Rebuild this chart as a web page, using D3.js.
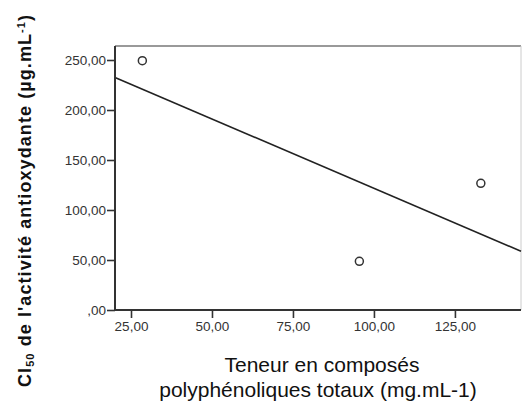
<!DOCTYPE html>
<html>
<head>
<meta charset="utf-8">
<script src="https://cdn.jsdelivr.net/npm/d3@7"></script>
<style>
	body { margin: 0; background: #fff; }
	svg { display: block; font-family: Arial, "Liberation Sans", sans-serif; }
</style>
</head>
<body>
<svg id="chart" width="522" height="403"></svg>
<script>
var polyphenols = [28.5, 95.5, 133.0];
var ic50 = [249.3, 48.7, 126.7];
var xTicks = [25, 50, 75, 100, 125];
var yTicks = [0, 50, 100, 150, 200, 250];

var svg = d3.select("#chart");
var plotLeft = 115, plotRight = 521, plotTop = 46, plotBottom = 310;

var x = d3.scaleLinear().domain([20.06, 145.4]).range([plotLeft, plotRight]);
var y = d3.scaleLinear().domain([0, 264]).range([plotBottom, plotTop]);

// french style numbers: 50,00 and ,00
var fmt = function(v) {
	var s = d3.format(".2f")(v).replace(".", ",");
	return v === 0 ? s.slice(1) : s;
};

// plot frame
svg.append("line").attr("x1", plotLeft).attr("x2", plotRight).attr("y1", plotTop).attr("y2", plotTop)
	.attr("stroke", "#777").attr("stroke-width", 1.5);
svg.append("line").attr("x1", plotRight).attr("x2", plotRight).attr("y1", plotTop).attr("y2", plotBottom)
	.attr("stroke", "#ccc").attr("stroke-width", 1);

// least squares fit line
var mx = d3.mean(polyphenols), my = d3.mean(ic50);
var sxy = d3.sum(polyphenols, function(v, i) { return (v - mx) * (ic50[i] - my); });
var sxx = d3.sum(polyphenols, function(v) { return (v - mx) * (v - mx); });
var slope = sxy / sxx, icpt = my - slope * mx;
var ends = x.domain();
svg.append("line")
	.attr("x1", x(ends[0])).attr("y1", y(icpt + slope * ends[0]))
	.attr("x2", x(ends[1])).attr("y2", y(icpt + slope * ends[1]))
	.attr("stroke", "#222").attr("stroke-width", 1.6);

// axes
var gx = svg.append("g").attr("transform", "translate(0," + plotBottom + ")")
	.call(d3.axisBottom(x).tickValues(xTicks).tickFormat(fmt).tickSize(8).tickPadding(3));
var gy = svg.append("g").attr("transform", "translate(" + plotLeft + ",0)")
	.call(d3.axisLeft(y).tickValues(yTicks).tickFormat(fmt).tickSize(8).tickPadding(1));

[gx, gy].forEach(function(g) {
	g.select(".domain").attr("stroke", "#333").attr("stroke-width", 2);
	g.selectAll(".tick line").attr("stroke", "#333").attr("stroke-width", 1.6);
	g.selectAll(".tick text").attr("fill", "#333").style("font-size", "13.5px").style("font-family", "Arial, 'Liberation Sans', sans-serif");
});
// remove the outer tick stubs of the domain path
gx.select(".domain").attr("d", "M" + plotLeft + ",0H" + plotRight);
gy.select(".domain").attr("d", "M0," + plotTop + "V" + plotBottom);

// points
svg.selectAll("circle.pt").data(polyphenols).enter().append("circle")
	.attr("class", "pt")
	.attr("cx", function(d) { return x(d); })
	.attr("cy", function(d, i) { return y(ic50[i]); })
	.attr("r", 4)
	.attr("fill", "none")
	.attr("stroke", "#333")
	.attr("stroke-width", 1.5);

// x title
svg.append("text").attr("x", 322).attr("y", 372).attr("text-anchor", "middle")
	.style("font-size", "21px").attr("fill", "#111").text("Teneur en composés");
svg.append("text").attr("x", 318).attr("y", 397).attr("text-anchor", "middle")
	.style("font-size", "21px").attr("fill", "#111").text("polyphénoliques totaux (mg.mL-1)");

// y title with subscript and superscript
var yt = svg.append("text").attr("transform", "translate(31,201) rotate(-90)")
	.attr("text-anchor", "middle").style("font-size", "18px").style("font-weight", "bold").attr("fill", "#111")
	.attr("textLength", 372).attr("lengthAdjust", "spacing");
yt.append("tspan").text("CI");
yt.append("tspan").attr("dy", 3).style("font-size", "11px").text("50");
yt.append("tspan").attr("dy", -3).text(" de l'activité  antioxydante (µg.mL");
yt.append("tspan").attr("dy", -6).style("font-size", "11px").text("-1");
yt.append("tspan").attr("dy", 6).text(")");
</script>
</body>
</html>
